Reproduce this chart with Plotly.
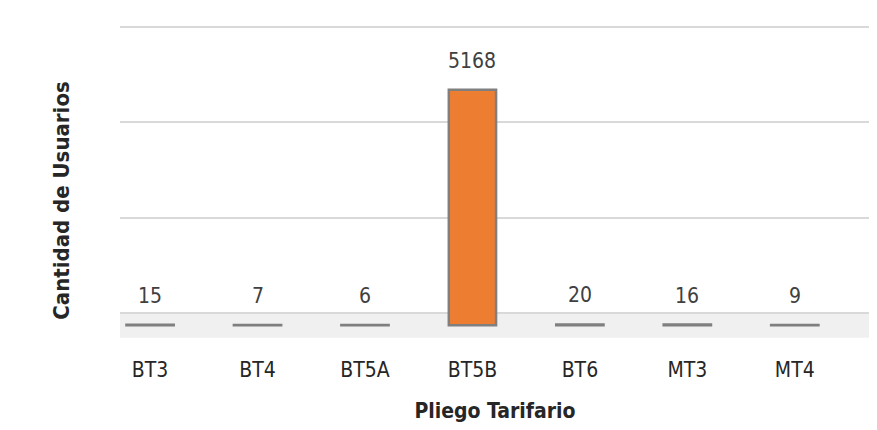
import plotly.graph_objects as go

categories = ["BT3", "BT4", "BT5A", "BT5B", "BT6", "MT3", "MT4"]
usuarios = [15, 7, 6, 5168, 20, 16, 9]

font_family = "'Liberation Sans Narrow', 'DejaVu Sans Condensed', 'Open Sans', sans-serif"

fig = go.Figure()
fig.add_trace(go.Bar(
    x=categories,
    y=usuarios,
    width=0.44,
    marker=dict(color="#ED7D31", line=dict(color="#7f7f7f", width=2.5)),
    cliponaxis=False,
))

# data labels
for c, v in zip(categories, usuarios):
    fig.add_annotation(x=c, y=v, xref="x", yref="y", text=str(v), showarrow=False,
                       yanchor="bottom", yshift=15,
                       font=dict(family=font_family, size=21, color="#404040"))

# floor band
fig.add_shape(type="rect", xref="paper", yref="y", x0=0, x1=1, y0=-270, y1=270,
              fillcolor="#f0f0f0", line=dict(width=0), layer="below")

# y-axis title
fig.add_annotation(x=-0.078, y=0.435, xref="paper", yref="paper",
                   text="<b>Cantidad de Usuarios</b>", textangle=-90, showarrow=False,
                   xanchor="center", yanchor="middle",
                   font=dict(family=font_family, size=22, color="#262626"))

fig.update_layout(
    width=877, height=430,
    margin=dict(l=112, r=15, t=12, b=99),
    paper_bgcolor="white", plot_bgcolor="white",
    showlegend=False,
    font=dict(family=font_family, color="#404040"),
    xaxis=dict(
        range=[-0.28, 6.7],
        showgrid=False, showline=False, zeroline=False,
        ticks="outside", ticklen=12, tickcolor="rgba(0,0,0,0)",
        tickfont=dict(size=21, color="#262626"),
        title=dict(text="<b>Pliego Tarifario</b>", font=dict(size=21, color="#262626"), standoff=22),
    ),
    yaxis=dict(
        range=[-300, 6696],
        tick0=270, dtick=2090,
        showticklabels=False,
        showgrid=True, gridcolor="#d9d9d9", gridwidth=1.5,
        zeroline=False, showline=False,
    ),
)

fig.write_html("out.html")
